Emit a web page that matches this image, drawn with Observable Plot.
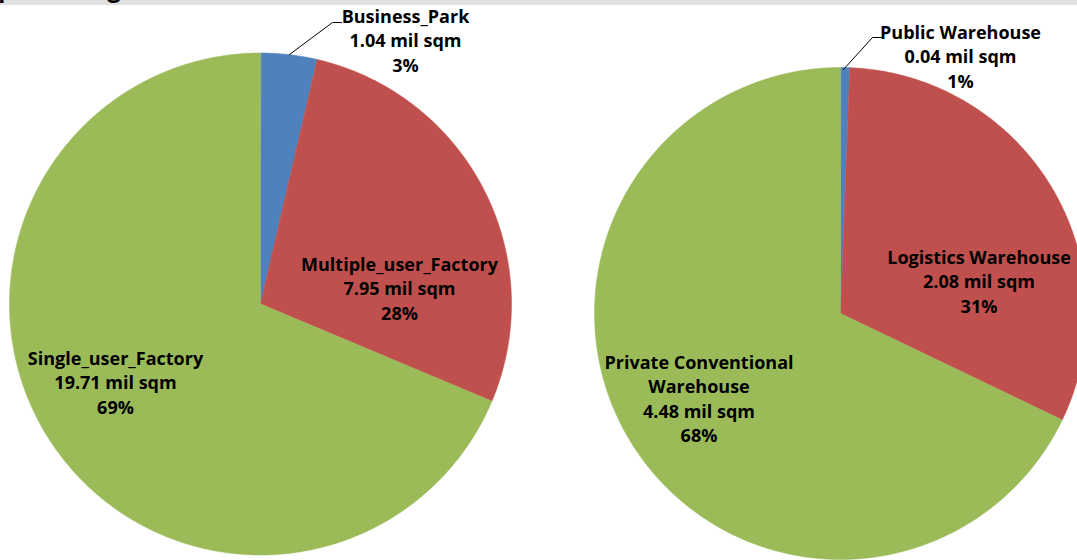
<!DOCTYPE html>
<html><head><meta charset="utf-8">
<script src="https://cdn.jsdelivr.net/npm/d3@7"></script>
<script src="https://cdn.jsdelivr.net/npm/@observablehq/plot@0.6"></script>
<style>
body{margin:0;background:#fff;font-family:"Open Sans",sans-serif;overflow:hidden}
#title{position:relative;height:5px;overflow:hidden;background:#e0e0e0;width:1077px}
#title span{position:absolute;top:-27px;font-weight:bold;font-size:28px;font-family:Lato,sans-serif;line-height:28px;white-space:nowrap;color:#000}
#chart{width:1077px;height:555px;overflow:hidden}
</style></head><body>
<div id="title"><span id="tt">Factory &amp; Warehouse Group Ranking</span></div>
<div id="chart"></div>
<script>
// ---- data ----
const factoryCategories = ["Business_Park", "Multiple_user_Factory", "Single_user_Factory"];
const factoryValues = [1.04, 7.95, 19.71];
const factoryPercents = ["3%", "28%", "69%"];
const warehouseCategories = ["Public Warehouse", "Logistics Warehouse", "Private Conventional\nWarehouse"];
const warehouseValues = [0.04, 2.08, 4.48];
const warehousePercents = ["1%", "31%", "68%"];
const sliceColors = ["#4F81BD", "#C0504D", "#9BBB59"];
const unit = "mil sqm";

// ---- layout (reference pixel coordinates) ----
const pieLayout = [
  {cx: 260, cy: 303.5, r: 251,
   labels: [[405, 39], [399, 287], [115, 381]],
   leader: [[289, 54], [332, 22], [341, 22]]},
  {cx: 840, cy: 313, r: 246,
   labels: [[960, 55], [978.5, 280], [698.5, 397]],
   leader: [[843, 69], [872, 37], [881, 37]]}
];

const pies = [
  {cats: factoryCategories, vals: factoryValues, pcts: factoryPercents},
  {cats: warehouseCategories, vals: warehouseValues, pcts: warehousePercents}
];

const slicePts = [], labelRows = [], leaderPts = [];
pies.forEach((p, pi) => {
  const L = pieLayout[pi];
  const total = d3.sum(p.vals);
  let a0 = 0;
  p.vals.forEach((v, i) => {
    const a1 = a0 + v / total * 2 * Math.PI;
    const key = pi + "-" + i;
    slicePts.push({x: L.cx, y: L.cy, key, color: sliceColors[i]});
    const n = Math.max(2, Math.ceil((a1 - a0) / (Math.PI / 360)));
    for (let k = 0; k <= n; k++) {
      const t = a0 + (a1 - a0) * k / n;
      slicePts.push({x: L.cx + L.r * Math.sin(t), y: L.cy - L.r * Math.cos(t), key, color: sliceColors[i]});
    }
    labelRows.push({x: L.labels[i][0], y: L.labels[i][1],
      text: `${p.cats[i]}\n${v.toFixed(2)} ${unit}\n${p.pcts[i]}`});
    a0 = a1;
  });
  L.leader.forEach(([x, y]) => leaderPts.push({x, y, key: pi}));
});

const chart = Plot.plot({
  width: 1077, height: 555, margin: 0,
  x: {domain: [0, 1077], range: [0, 1077], axis: null},
  y: {domain: [5, 560], range: [0, 555], axis: null},
  color: {type: "identity"},
  style: {fontFamily: "'Open Sans', sans-serif", background: "#fff", overflow: "hidden"},
  marks: [
    Plot.line(slicePts, {x: "x", y: "y", z: "key", fill: "color", stroke: "color", strokeWidth: 0.5, curve: "linear-closed"}),
    Plot.line(leaderPts, {x: "x", y: "y", z: "key", stroke: "#000", strokeWidth: 1}),
    Plot.text(labelRows, {x: "x", y: "y", text: "text", fontSize: 18, fontWeight: "bold", lineHeight: 1.36,
      fill: "#000", textAnchor: "middle", lineAnchor: "middle"})
  ]
});
document.getElementById("chart").appendChild(chart);

// position title so only descenders peek out of the grey strip
const c = document.createElement("canvas").getContext("2d");
c.font = "bold 28px Lato";
const pre = "Factory & Warehouse Grou";
document.getElementById("tt").style.left = (-c.measureText(pre).width - 1) + "px";
</script>
</body></html>
